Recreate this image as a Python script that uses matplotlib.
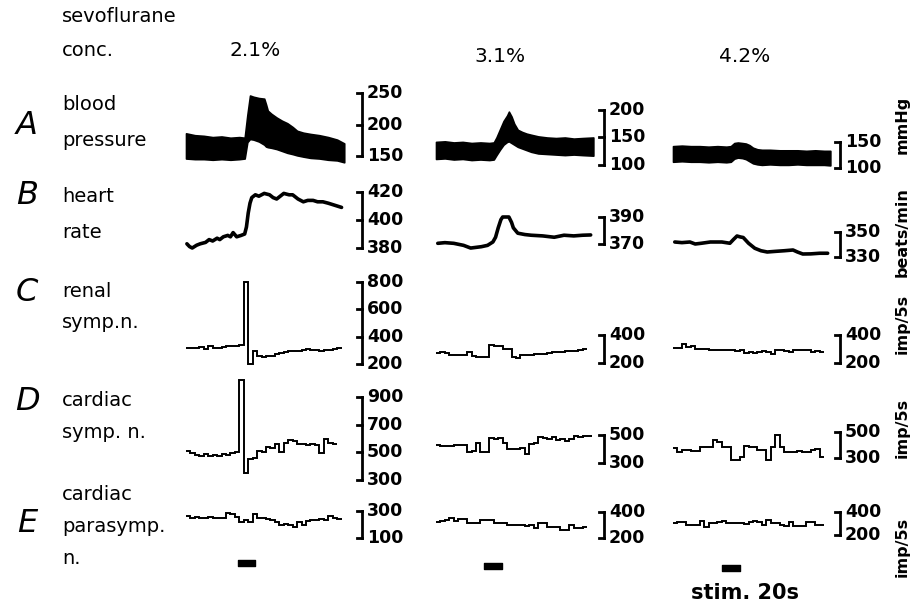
import numpy as np
import matplotlib.pyplot as plt
from matplotlib.transforms import blended_transform_factory

W, H = 913, 608

# ---------------- data ----------------
concs = ["2.1%", "3.1%", "4.2%"]
stim_start = [58, 54, 55]      # s
stim_len = 20                  # s
bin_s = 5                      # nerve activity in imp/5s bins

# A: arterial pressure, envelope of the pulse (mmHg)
bp_t1 = [0, 10, 20, 30, 40, 50, 60, 66, 69, 72, 76, 82, 88, 90, 92, 96, 102, 108, 114, 120, 125, 132, 140, 150, 160, 170, 178]
bp_hi1 = [186, 183, 182, 180, 181, 179, 180, 179, 215, 246, 244, 242, 241, 232, 222, 217, 211, 206, 202, 196, 190, 187, 185, 183, 180, 176, 170]
bp_lo1 = [146, 145, 145, 144, 145, 144, 145, 146, 172, 177, 176, 173, 168, 165, 164, 163, 161, 158, 155, 153, 151, 149, 147, 146, 144, 143, 140]

bp_t2 = [0, 10, 20, 30, 40, 50, 60, 65, 68, 72, 76, 80, 82, 85, 88, 92, 97, 102, 107, 115, 125, 135, 145, 155, 165, 177]
bp_hi2 = [142, 143, 141, 142, 140, 141, 140, 141, 150, 165, 180, 190, 197, 188, 175, 164, 160, 157, 155, 152, 150, 149, 150, 148, 149, 150]
bp_lo2 = [111, 112, 110, 111, 109, 110, 109, 110, 118, 128, 137, 142, 143, 140, 137, 133, 130, 127, 124, 121, 120, 119, 118, 119, 118, 117]

bp_t3 = [0, 10, 20, 30, 40, 50, 60, 65, 69, 73, 78, 82, 86, 90, 95, 100, 109, 120, 130, 140, 150, 160, 170, 177]
bp_hi3 = [142, 143, 142, 142, 141, 142, 141, 142, 148, 149, 148, 147, 144, 139, 136, 135, 135, 134, 134, 134, 133, 134, 133, 133]
bp_lo3 = [112, 113, 112, 112, 111, 112, 111, 112, 118, 120, 119, 117, 113, 109, 107, 106, 107, 106, 106, 107, 106, 106, 106, 105]

# B: heart rate (beats/min)
hr_t1 = [1, 4, 7, 12, 16, 22, 26, 30, 35, 38, 42, 47, 50, 53, 57, 62, 66, 68, 70, 72, 74, 78, 82, 88, 94, 98, 102, 106, 110, 116, 120, 126, 132, 137, 143, 148, 154, 160, 165, 170, 175]
hr_v1 = [383, 381, 380, 382, 383, 384, 386, 385, 387, 386, 388, 389, 388, 391, 388, 389, 390, 395, 405, 412, 416, 418, 417, 419, 418, 416, 415, 417, 419, 418, 418, 415, 413, 414, 414, 413, 413, 412, 411, 410, 409]
hr_t2 = [2, 10, 20, 31, 39, 45, 51, 58, 64, 67, 70, 73, 75, 82, 85, 87, 92, 100, 107, 120, 133, 144, 155, 165, 174]
hr_v2 = [370.5, 371, 370.5, 369, 367, 367.5, 368, 369, 371.5, 375, 382, 388, 390, 390, 386, 382, 378, 377, 376.5, 376, 375, 376.5, 376, 376.5, 376.7]
hr_t3 = [2, 10, 19, 25, 32, 42, 55, 64, 68, 72, 76, 79, 85, 92, 99, 106, 115, 125, 135, 140, 146, 155, 165, 174]
hr_v3 = [342, 341.5, 342, 340.4, 341, 342, 342, 341, 344, 346.8, 346, 345.6, 341, 337, 335, 334, 334.5, 335, 335.6, 334, 332.4, 332.5, 333, 333]

# C: renal sympathetic nerve activity (imp/5s)
renal1 = [315, 320, 318, 325, 310, 330, 315, 320, 325, 330, 335, 330, 340, 800, 200, 295, 255, 250, 262, 258,
          275, 282, 290, 295, 292, 298, 302, 308, 304, 300, 296, 305, 302, 312, 320]
renal2 = [272, 278, 275, 258, 256, 258, 260, 276, 248, 243, 244, 245, 328, 325, 318, 300, 298, 243, 236, 255,
          258, 257, 262, 265, 262, 270, 278, 276, 280, 284, 286, 288, 296, 300]
renal3 = [307, 305, 336, 316, 318, 300, 302, 298, 293, 295, 290, 292, 290, 292, 288, 290, 274, 276, 272, 281,
          283, 279, 264, 293, 290, 285, 282, 293, 295, 292, 293, 281, 283, 280]

# D: cardiac sympathetic nerve activity (imp/5s)
csna1 = [510, 495, 480, 470, 485, 470, 480, 475, 485, 480, 495, 500, 1020, 350, 455, 460, 510, 505, 540, 530,
         560, 500, 565, 590, 580, 560, 560, 555, 560, 550, 495, 600, 570, 560]
csna2 = [428, 420, 422, 418, 430, 432, 428, 378, 385, 440, 378, 380, 476, 470, 478, 440, 400, 402, 398, 405,
         364, 436, 440, 486, 480, 470, 486, 465, 475, 460, 470, 493, 488, 493, 490]
csna3 = [377, 349, 362, 360, 355, 357, 387, 385, 388, 439, 420, 387, 383, 285, 288, 310, 392, 387, 385, 362,
         360, 285, 387, 477, 387, 349, 350, 348, 352, 349, 350, 365, 370, 310]

# E: cardiac parasympathetic nerve activity (imp/5s)
cpna1 = [265, 250, 255, 250, 245, 255, 250, 250, 245, 285, 280, 255, 215, 230, 220, 280, 250, 245, 240, 235,
         215, 195, 205, 200, 185, 215, 200, 225, 235, 230, 240, 235, 265, 245, 240]
cpna2 = [326, 332, 340, 352, 330, 346, 344, 315, 318, 312, 339, 338, 336, 315, 318, 312, 300, 302, 298, 300,
         296, 300, 277, 315, 312, 285, 288, 282, 262, 265, 300, 277, 276, 285]
cpna3 = [304, 310, 316, 287, 289, 286, 318, 272, 302, 304, 316, 318, 304, 306, 302, 305, 300, 316, 318, 316,
         287, 330, 304, 306, 287, 275, 310, 280, 282, 279, 310, 312, 290, 287]

row_letters = ["A", "B", "C", "D", "E"]
row_names = [["blood", "pressure"], ["heart", "rate"], ["renal", "symp.n."],
             ["cardiac", "symp. n."], ["cardiac", "parasymp.", "n."]]

scale_ticks = {
    (0, 0): [150, 200, 250], (0, 1): [100, 150, 200], (0, 2): [100, 150],
    (1, 0): [380, 400, 420], (1, 1): [370, 390], (1, 2): [330, 350],
    (2, 0): [200, 400, 600, 800], (2, 1): [200, 400], (2, 2): [200, 400],
    (3, 0): [300, 500, 700, 900], (3, 1): [300, 500], (3, 2): [300, 500],
    (4, 0): [100, 300], (4, 1): [200, 400], (4, 2): [200, 400],
}

# ---------------- layout (pixels) ----------------
col_x = [186, 436, 673]
col_w = 160
brk_x = [362, 604, 840]
bar_px = {
    (0, 0): (93, 156), (0, 1): (110, 165), (0, 2): (142, 168),
    (1, 0): (192, 248), (1, 1): (217, 244), (1, 2): (232, 257),
    (2, 0): (282, 364), (2, 1): (335, 363), (2, 2): (335, 363),
    (3, 0): (397, 480), (3, 1): (435, 463), (3, 2): (432, 458),
    (4, 0): (511, 538), (4, 1): (512, 538), (4, 2): (512, 535),
}
stim_y = [563, 566, 568]

fig = plt.figure(figsize=(W / 100, H / 100), dpi=100)
plt.rcParams['font.family'] = 'DejaVu Sans'


def px_axes(x0, y0, w, h):
    ax = fig.add_axes([x0 / W, 1 - (y0 + h) / H, w / W, h / H])
    ax.axis('off')
    return ax


bp = [(bp_t1, bp_lo1, bp_hi1), (bp_t2, bp_lo2, bp_hi2), (bp_t3, bp_lo3, bp_hi3)]
hr = [(hr_t1, hr_v1), (hr_t2, hr_v2), (hr_t3, hr_v3)]
nerves = [[renal1, renal2, renal3], [csna1, csna2, csna3], [cpna1, cpna2, cpna3]]

for c in range(3):
    for r in range(5):
        top, bot = bar_px[(r, c)]
        ticks = scale_ticks[(r, c)]
        ax = px_axes(col_x[c], top, col_w, bot - top)
        ax.set_xlim(0, 180)
        ax.set_ylim(ticks[0], ticks[-1])

        if r == 0:
            t, lo, hi = bp[c]
            ax.fill_between(t, lo, hi, color='k', lw=1.2, clip_on=False)
        elif r == 1:
            t, v = hr[c]
            ax.plot(t, v, color='k', lw=2.6, clip_on=False, solid_capstyle='round')
        else:
            vals = nerves[r - 2][c]
            edges = np.arange(len(vals) + 1) * bin_s
            ax.stairs(vals, edges, baseline=None, color='k', lw=1.4, clip_on=False)

        # scale bracket
        tr = blended_transform_factory(ax.transAxes, ax.transData)
        bx = (brk_x[c] - col_x[c]) / col_w
        hook = 5 / col_w
        ax.plot([bx, bx], [ticks[0], ticks[-1]], transform=tr, color='k', lw=2, clip_on=False)
        for v in ticks:
            ax.plot([bx - hook, bx], [v, v], transform=tr, color='k', lw=2, clip_on=False)
            ax.text(bx + 5 / col_w, v, str(v), transform=tr, ha='left', va='center',
                    fontsize=12.5, fontweight='bold')

    # stimulation marker
    sax = px_axes(col_x[c], stim_y[c] - 5, col_w, 10)
    sax.set_xlim(0, 180)
    sax.set_ylim(0, 1)
    sax.broken_barh([(stim_start[c], stim_len)], (0.2, 0.6), color='k')

# header texts
def ftext(x, y, s, **kw):
    fig.text(x / W, 1 - y / H, s, **kw)

ftext(62, 17, "sevoflurane", fontsize=14, va='center')
ftext(62, 50, "conc.", fontsize=14, va='center')
for x, y, s in zip([255, 500, 745], [50, 57, 57], concs):
    ftext(x, y, s, fontsize=14.5, ha='center', va='center')

letter_y = [125, 195, 293, 402, 523]
name_y = [[105, 140], [196, 232], [291, 323], [400, 432], [495, 527, 558]]
for r in range(5):
    ftext(27, letter_y[r], row_letters[r], fontsize=23, style='italic', ha='center', va='center')
    for s, y in zip(row_names[r], name_y[r]):
        ftext(62, y, s, fontsize=14, va='center')

units = [("mmHg", 125), ("beats/min", 232), ("imp/5s", 324), ("imp/5s", 428), ("imp/5s", 547)]
for s, y in units:
    ftext(902, y, s, fontsize=11.5, fontweight='bold', rotation=90, ha='center', va='center')

ftext(745, 593, "stim. 20s", fontsize=15, fontweight='bold', ha='center', va='center')

fig.savefig("out.png", dpi=100)
